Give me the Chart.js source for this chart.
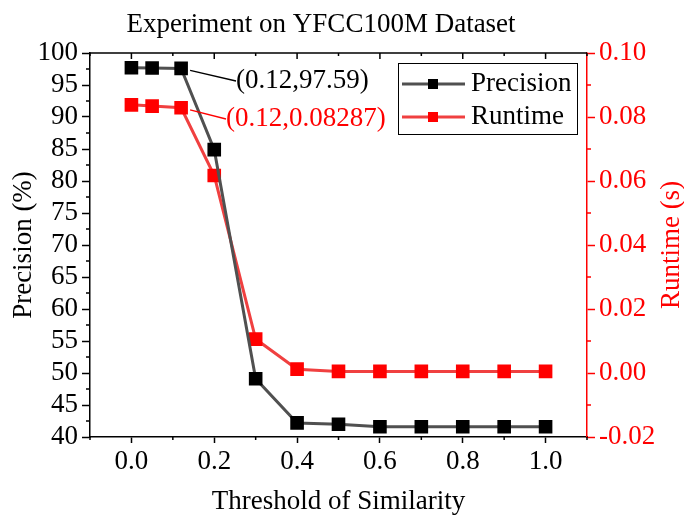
<!DOCTYPE html>
<html>
<head>
<meta charset="utf-8">
<script src="https://cdn.jsdelivr.net/npm/chart.js@4.4.1/dist/chart.umd.min.js"></script>
<style>
  html, body { margin: 0; padding: 0; background: #fff; }
  #wrap { width: 684px; height: 516px; }
</style>
</head>
<body>
<div id="wrap"><canvas id="chart" width="684" height="516"></canvas></div>
<script>
// Data
const thresholds = [0.0, 0.05, 0.12, 0.2, 0.3, 0.4, 0.5, 0.6, 0.7, 0.8, 0.9, 1.0];
const precision = [97.7, 97.65, 97.59, 84.9, 49.1, 42.2, 42.0, 41.6, 41.6, 41.6, 41.6, 41.6];
const runtime = [0.0838, 0.0834, 0.08287, 0.0617, 0.0106, 0.0012, 0.0005, 0.0005, 0.0005, 0.0005, 0.0005, 0.0005];

// Axis ticks
const xTicks = [0.0, 0.2, 0.4, 0.6, 0.8, 1.0];
const precisionTicks = [40, 45, 50, 55, 60, 65, 70, 75, 80, 85, 90, 95, 100];
const runtimeTicks = [-0.02, 0.0, 0.02, 0.04, 0.06, 0.08, 0.10];

// Annotated points
const annotations = [
  { index: 2, axis: 'y', text: '(0.12,97.59)', color: '#000000' },
  { index: 2, axis: 'y1', text: '(0.12,0.08287)', color: '#ff0000' }
];

const colors = {
  precisionLine: '#505050',
  precisionPoint: '#000000',
  runtimeLine: '#f04040',
  runtimePoint: '#ff0000',
  axis: '#000000',
  red: '#ff0000'
};

const FONT = '"Liberation Serif", "Times New Roman", serif';
const FS = 27;

function explicitTicks(values) {
  return (scale) => {
    scale.ticks = values.map(v => ({ value: v }));
  };
}

// Draw title, minor ticks, top ticks, legend and labels
const decorPlugin = {
  id: 'decor',
  afterDraw(chart) {
    const ctx = chart.ctx;
    const area = chart.chartArea;
    const x = chart.scales.x;
    const y = chart.scales.y;
    const y1 = chart.scales.y1;
    ctx.save();

    // title
    ctx.fillStyle = '#000';
    ctx.font = `${FS}px ${FONT}`;
    ctx.textAlign = 'center';
    ctx.textBaseline = 'alphabetic';
    ctx.fillText('Experiment on YFCC100M Dataset', 321, 32);

    // right axis title, reads bottom to top
    ctx.save();
    ctx.translate(672, (area.top + area.bottom) / 2);
    ctx.rotate(-Math.PI / 2);
    ctx.fillStyle = colors.red;
    ctx.textBaseline = 'middle';
    ctx.fillText('Runtime (s)', 0, 0);
    ctx.restore();

    // top border + inward ticks
    ctx.strokeStyle = colors.axis;
    ctx.lineWidth = 1.5;
    ctx.beginPath();
    ctx.moveTo(area.left, area.top);
    ctx.lineTo(area.right, area.top);
    for (let v = -0.1; v <= 1.1001; v += 0.1) {
      const px = x.getPixelForValue(v);
      ctx.moveTo(px, area.top);
      ctx.lineTo(px, area.top + (Math.round(v * 10) % 2 === 0 ? 6 : 3));
    }
    // bottom minor ticks
    for (let v = -0.1; v <= 1.1001; v += 0.2) {
      const px = x.getPixelForValue(v);
      ctx.moveTo(px, area.bottom);
      ctx.lineTo(px, area.bottom + 3);
    }
    // left minor ticks
    for (let v = 42.5; v < 100; v += 5) {
      const py = y.getPixelForValue(v);
      ctx.moveTo(area.left, py);
      ctx.lineTo(area.left - 4, py);
    }
    ctx.stroke();

    // right minor ticks (red)
    ctx.strokeStyle = colors.red;
    ctx.beginPath();
    for (let v = -0.01; v < 0.1; v += 0.02) {
      const py = y1.getPixelForValue(v);
      ctx.moveTo(area.right, py);
      ctx.lineTo(area.right + 4, py);
    }
    ctx.stroke();

    // annotations
    annotations.forEach((a, i) => {
      const scale = chart.scales[a.axis];
      const data = a.axis === 'y' ? precision : runtime;
      const px = x.getPixelForValue(thresholds[a.index]);
      const py = scale.getPixelForValue(data[a.index]);
      const tx = i === 0 ? 236 : 226;
      const ty = i === 0 ? 81 : 119;
      ctx.strokeStyle = a.color;
      ctx.lineWidth = 1.3;
      ctx.beginPath();
      ctx.moveTo(px + 9, py + 2);
      ctx.lineTo(tx, ty);
      ctx.stroke();
      ctx.fillStyle = a.color;
      ctx.textAlign = 'left';
      ctx.textBaseline = 'middle';
      ctx.font = `${FS}px ${FONT}`;
      ctx.fillText(a.text, tx, ty);
    });

    // legend
    const lx = 398, ly = 63, lw = 179, lh = 71;
    ctx.fillStyle = '#fff';
    ctx.fillRect(lx, ly, lw, lh);
    ctx.strokeStyle = '#000';
    ctx.lineWidth = 1;
    ctx.strokeRect(lx + 0.5, ly + 0.5, lw, lh);
    chart.data.datasets.forEach((ds, i) => {
      const cy = ly + 21 + i * 33;
      ctx.strokeStyle = ds.borderColor;
      ctx.lineWidth = 3;
      ctx.beginPath();
      ctx.moveTo(lx + 4, cy);
      ctx.lineTo(lx + 67, cy);
      ctx.stroke();
      ctx.fillStyle = ds.pointBackgroundColor;
      ctx.fillRect(lx + 35 - 5, cy - 5, 10, 10);
      ctx.fillStyle = '#000';
      ctx.textAlign = 'left';
      ctx.textBaseline = 'middle';
      ctx.fillText(ds.label, lx + 73, cy);
    });

    ctx.restore();
  }
};

new Chart(document.getElementById('chart').getContext('2d'), {
  type: 'line',
  data: {
    labels: thresholds,
    datasets: [{
      label: 'Precision',
      data: thresholds.map((t, i) => ({ x: t, y: precision[i] })),
      yAxisID: 'y',
      borderColor: colors.precisionLine,
      backgroundColor: colors.precisionPoint,
      pointBackgroundColor: colors.precisionPoint,
      pointBorderColor: colors.precisionPoint,
      pointStyle: 'rect',
      pointRadius: 7.5,
      borderWidth: 3,
      tension: 0
    }, {
      label: 'Runtime',
      data: thresholds.map((t, i) => ({ x: t, y: runtime[i] })),
      yAxisID: 'y1',
      borderColor: colors.runtimeLine,
      backgroundColor: colors.runtimePoint,
      pointBackgroundColor: colors.runtimePoint,
      pointBorderColor: colors.runtimePoint,
      pointStyle: 'rect',
      pointRadius: 7.5,
      borderWidth: 3,
      tension: 0
    }]
  },
  options: {
    responsive: false,
    animation: false,
    layout: { padding: 0 },
    plugins: {
      legend: { display: false },
      tooltip: { enabled: false }
    },
    scales: {
      x: {
        type: 'linear',
        min: -0.1,
        max: 1.1,
        afterBuildTicks: explicitTicks(xTicks),
        afterFit: (s) => { s.height = 79; },
        grid: { drawOnChartArea: false, tickLength: 6, tickWidth: 1.5, tickColor: '#000' },
        border: { color: '#000', width: 1.5 },
        ticks: {
          color: '#000',
          font: { family: FONT, size: FS },
          padding: 3,
          maxRotation: 0,
          autoSkip: false,
          callback: (v) => v.toFixed(1)
        },
        title: {
          display: true,
          text: 'Threshold of Similarity',
          color: '#000',
          font: { family: FONT, size: FS, lineHeight: 1 },
          padding: { top: 0, bottom: 1 }
        }
      },
      y: {
        position: 'left',
        min: 40,
        max: 100,
        afterBuildTicks: explicitTicks(precisionTicks),
        afterFit: (s) => { s.width = 90; },
        grid: { drawOnChartArea: false, tickLength: 8, tickWidth: 1.5, tickColor: '#000' },
        border: { color: '#000', width: 1.5 },
        ticks: {
          color: '#000',
          font: { family: FONT, size: FS },
          padding: 4,
          autoSkip: false
        },
        title: {
          display: true,
          text: 'Precision (%)',
          color: '#000',
          font: { family: FONT, size: FS, lineHeight: 1 },
          padding: { top: 10, bottom: 0 }
        }
      },
      y1: {
        position: 'right',
        min: -0.02,
        max: 0.10,
        afterBuildTicks: explicitTicks(runtimeTicks),
        afterFit: (s) => { s.width = 97; },
        grid: { drawOnChartArea: false, tickLength: 8, tickWidth: 1.5, tickColor: colors.red },
        border: { color: colors.red, width: 1.5 },
        ticks: {
          color: colors.red,
          font: { family: FONT, size: FS },
          padding: 4,
          autoSkip: false,
          callback: (v) => v.toFixed(2)
        },
        title: { display: false }
      },
      x2: {
        type: 'linear',
        position: 'top',
        min: -0.1,
        max: 1.1,
        display: true,
        afterFit: (s) => { s.height = 53; },
        grid: { display: false },
        border: { display: false },
        ticks: { display: false }
      }
    }
  },
  plugins: [decorPlugin]
});
</script>
</body>
</html>
